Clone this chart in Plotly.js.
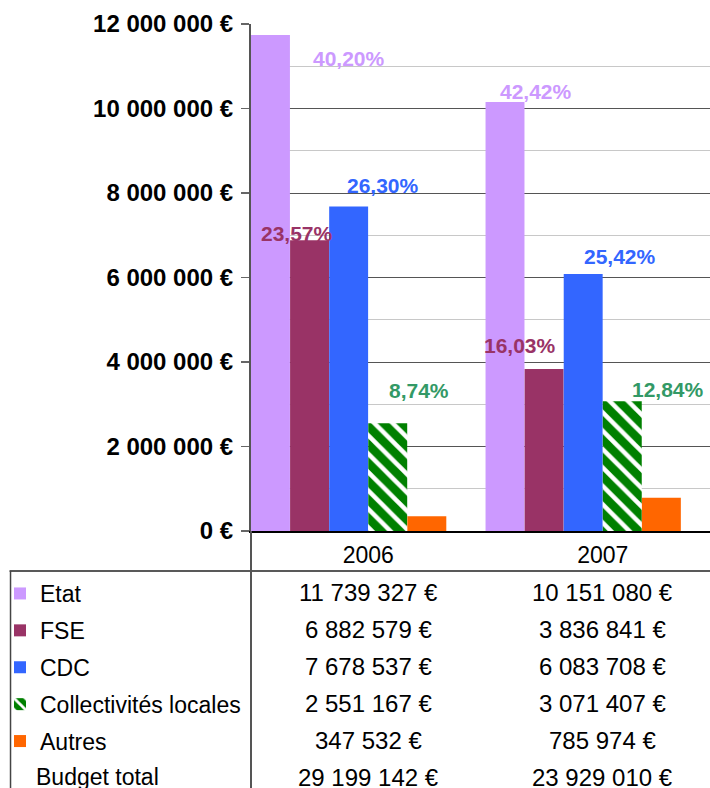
<!DOCTYPE html>
<html>
<head>
<meta charset="utf-8">
<script src="https://cdn.plot.ly/plotly-3.0.1.min.js"></script>
<style>
  body { margin: 0; background: #fff; }
  #chart { width: 710px; height: 788px; }
</style>
</head>
<body>
<div id="chart"></div>
<script>
// Données (en euros)
var years = ['2006', '2007'];
var etat = [11739327, 10151080];
var fse = [6882579, 3836841];
var cdc = [7678537, 6083708];
var collectivites = [2551167, 3071407];
var autres = [347532, 785974];
var totals = [29199142, 23929010];
var seriesNames = ['Etat', 'FSE', 'CDC', 'Collectivités locales', 'Autres'];

var FONT = 'Liberation Sans, Arial, sans-serif';
var series = [etat, fse, cdc, collectivites, autres];
var colors = ['#cc99ff', '#993366', '#3366ff', '#008000', '#ff6600'];
var labelColors = ['#cc99ff', '#993366', '#3366ff', '#339966'];
var barW = 0.166;

function euro(v) {
    return String(v).replace(/\B(?=(\d{3})+(?!\d))/g, ' ') + ' €';
}
function pct(v, t) {
    return (v / t * 100).toFixed(2).replace('.', ',') + '%';
}

var data = [];
for (var i = 0; i < series.length; i++) {
    var tr = {
        type: 'bar',
        name: seriesNames[i],
        x: [0, 1],
        y: series[i],
        width: barW,
        offset: -0.5 + i * (1 / 6),
        marker: {color: colors[i], line: {width: 0}},
        legendgroup: 'g' + i,
        hoverinfo: 'skip'
    };
    if (i == 3) {
        tr.marker.pattern = {shape: '\\', bgcolor: '#008000', fgcolor: '#ffffff', size: 13, solidity: 0.35, fillmode: 'replace'};
    }
    data.push(tr);
}

// position des étiquettes de pourcentage (axe x, axe y)
var labelPos = [
    [[-0.083, 11.18e6], [0.713, 10.40e6]],
    [[-0.304, 7.04e6], [0.649, 4.39e6]],
    [[0.062, 8.18e6], [1.074, 6.50e6]],
    [[0.215, 3.33e6], [1.279, 3.35e6]]
];

var annotations = [];
for (var s = 0; s < 4; s++) {
    for (var k = 0; k < 2; k++) {
        annotations.push({
            xref: 'x', yref: 'y', x: labelPos[s][k][0], y: labelPos[s][k][1],
            text: pct(series[s][k], totals[k]), showarrow: false,
            font: {family: FONT, size: 21, color: labelColors[s], weight: 'bold'}
        });
    }
}

// tableau sous le graphique
function py(p) { return (531 - p) / 507; }
var rowsY = [592, 629, 666, 703, 740, 777];
var tableRows = series.concat([totals]);
for (var r = 0; r < tableRows.length; r++) {
    for (var k = 0; k < 2; k++) {
        annotations.push({
            xref: 'x', yref: 'paper', x: k, y: py(rowsY[r]), yanchor: 'middle',
            text: euro(tableRows[r][k]), showarrow: false,
            font: {family: FONT, size: 24, color: '#000'}
        });
    }
}
annotations.push({
    xref: 'paper', yref: 'paper', x: (33 - 250) / 460, xanchor: 'left', y: py(777), yanchor: 'middle',
    text: 'Budget total', showarrow: false, font: {family: FONT, size: 23, color: '#000'}
});

var shapes = [
    {type: 'line', xref: 'paper', yref: 'paper', x0: (8 - 250) / 460, x1: 1, y0: py(571), y1: py(571), line: {color: '#222', width: 1.5}},
    {type: 'line', xref: 'paper', yref: 'paper', x0: (9 - 250) / 460, x1: (9 - 250) / 460, y0: py(571), y1: py(790), line: {color: '#444', width: 1.5}},
    {type: 'line', xref: 'paper', yref: 'paper', x0: 0, x1: 0, y0: 0, y1: py(790), line: {color: '#555', width: 2}}
];

var layout = {
    width: 710,
    height: 788,
    margin: {l: 250, r: 0, t: 24, b: 257},
    paper_bgcolor: '#fff',
    plot_bgcolor: '#fff',
    separators: ', ',
    barmode: 'overlay',
    showlegend: true,
    legend: {
        x: (-2 - 250) / 460, xanchor: 'left',
        y: py(572), yanchor: 'top',
        font: {family: FONT, size: 23, color: '#000'},
        tracegroupgap: 4,
        itemwidth: 30,
        bgcolor: 'rgba(0,0,0,0)'
    },
    xaxis: {
        range: [-0.5, 1.457],
        tickvals: [0, 1],
        ticktext: years,
        showgrid: false,
        zeroline: false,
        showline: true,
        linecolor: '#000',
        linewidth: 1.5,
        ticks: '',
        ticklabelstandoff: 3,
        tickfont: {family: FONT, size: 23, color: '#000'},
        fixedrange: true
    },
    yaxis: {
        range: [0, 12e6],
        dtick: 2e6,
        tickformat: ',d',
        ticksuffix: ' €',
        showgrid: true,
        gridcolor: '#555',
        gridwidth: 1,
        minor: {dtick: 1e6, showgrid: true, gridcolor: '#c8c8c8', gridwidth: 1},
        zeroline: false,
        showline: true,
        linecolor: '#555',
        linewidth: 2,
        ticks: 'outside',
        ticklen: 8,
        tickcolor: '#666',
        tickwidth: 1.5,
        ticklabelstandoff: 3,
        tickfont: {family: FONT, size: 24, color: '#000', weight: 'bold'},
        fixedrange: true
    },
    annotations: annotations,
    shapes: shapes
};

Plotly.newPlot('chart', data, layout, {displayModeBar: false, staticPlot: true});
</script>
</body>
</html>
